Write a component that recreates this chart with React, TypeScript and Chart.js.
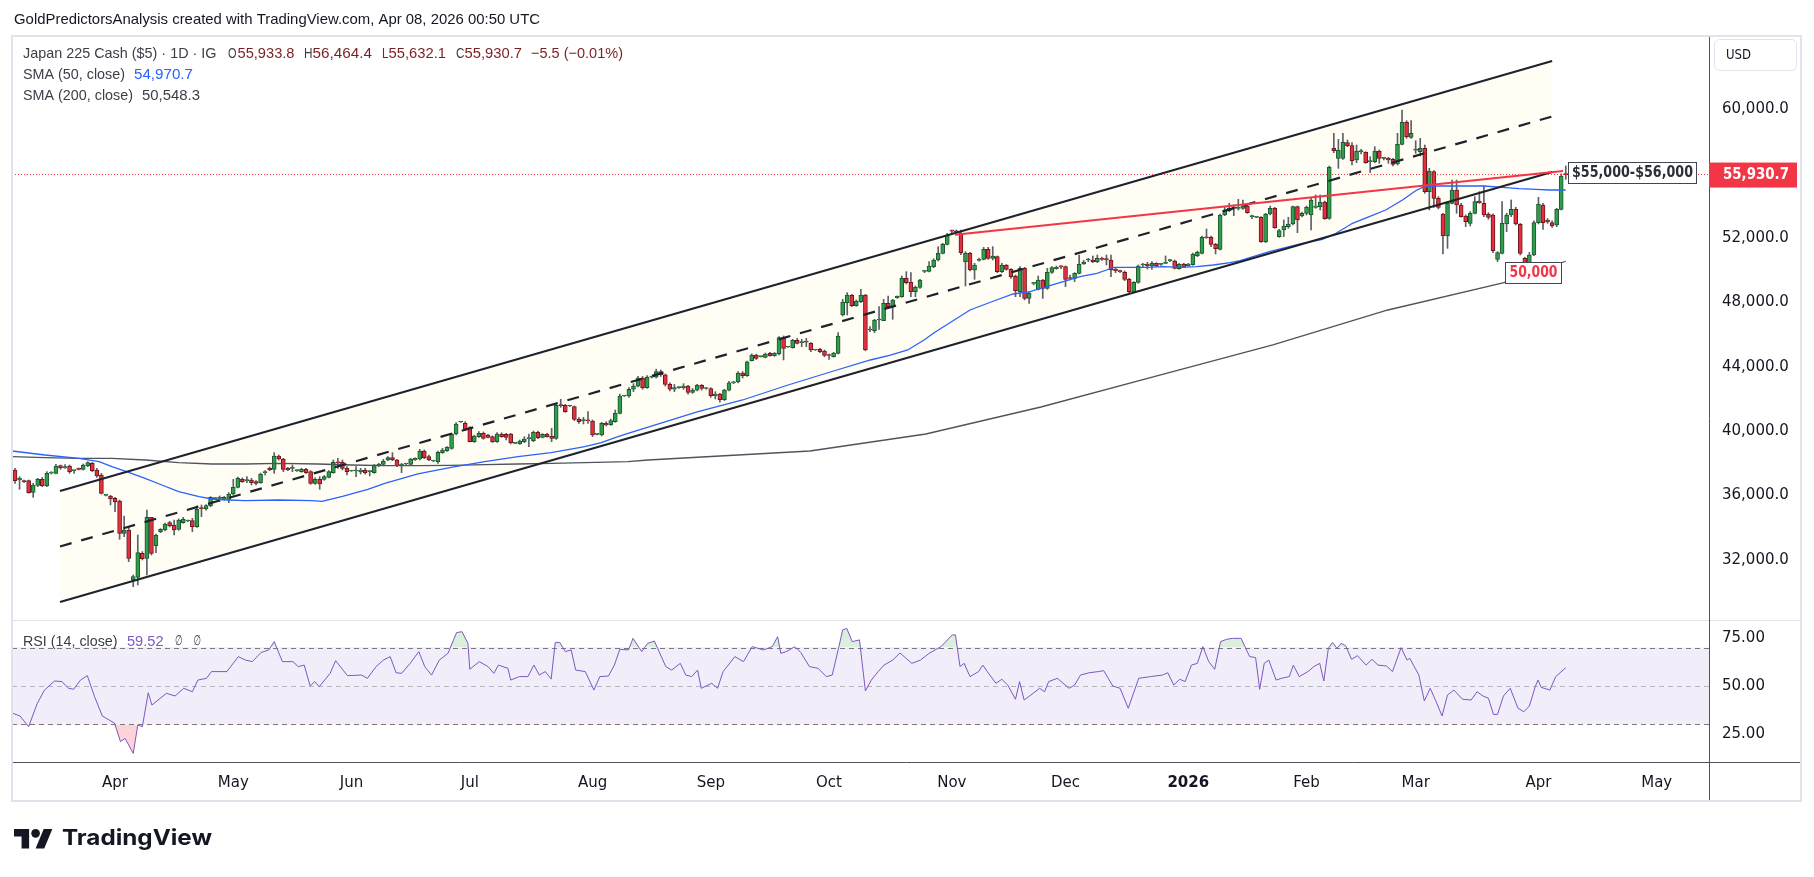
import { useEffect, useRef } from 'react';
import { Chart, registerables } from 'chart.js';

Chart.register(...registerables);

// ---------------- DATA ----------------
// Daily bars (Sun–Fri sessions), bar 0 = 6 Mar 2025, last bar = 8 Apr 2026
const opens = [
37590,36969,36900,36928,36204,36638,37011,36597,37400,37383,37859,37714,37838,37549,37693,37631,37838,38004,37590,37279,
36017,35976,35831,35666,33659,33866,30762,30928,32417,32107,34652,32872,33762,33866,34321,34176,33907,34321,34424,34445,
34073,35211,35169,35355,35811,35831,35769,35769,36100,36514,37011,36928,36969,36866,36804,37424,37714,37631,38459,38273,
37693,37693,37549,37486,37631,37486,36762,37011,37011,37135,37425,38046,38066,37694,37529,37529,37487,37591,37487,37425,
37839,37942,38211,38356,38211,37880,37963,37942,38211,38273,38770,38418,38149,38108,38667,38791,38935,39825,40570,40487,
40218,39349,39660,39866,39763,39660,39349,39825,39804,39825,39246,39205,39349,39535,39411,39929,39618,39825,39701,39556,
41604,41604,41563,41522,40756,40653,40653,40632,39804,39763,40487,40405,40591,41108,42184,42184,42600,42800,43300,42700,
43350,43350,43700,43500,42900,42600,42700,42700,42800,42400,42550,42850,42650,42650,42200,42300,41950,42550,43000,43050,
43600,43450,44380,44730,44627,44585,44834,44689,44792,45806,45227,45186,45641,45496,45537,45454,45040,45082,44978,44710,
44627,44834,47213,47979,48434,47792,48041,48454,46282,46241,46903,46861,47937,47730,48289,48351,49489,49261,48662,48930,
49924,49924,50213,50627,51041,51600,52427,52386,52283,50524,51041,50007,50600,50669,51290,50731,50834,49903,50296,50048,
49634,48662,50110,48248,49179,48807,49386,48869,49862,50090,50214,50214,49490,49490,49800,50379,50627,50627,50524,50731,
50710,50627,50069,49965,49862,49427,48662,49241,50317,50379,50255,50420,50358,50420,50586,50565,50090,50379,50276,50338,
50896,51041,52034,52034,51620,51290,53421,53690,53834,53834,53835,53980,53318,53276,53276,51766,53483,53835,52076,52490,
52697,52862,53938,53359,53525,53421,53897,53938,54228,53214,57559,56938,56938,57911,57724,56835,57352,57311,56731,56731,
57393,56938,56938,56876,56587,57807,59173,58242,57456,57352,57559,54869,56111,54455,53483,52117,54145,54973,54042,53359,
52904,53525,54290,54145,53462,53421,50669,51042,52863,53421,53773,52842,50731,50421,50938,52945,54042,53111,52945,52800,
53773,55933.8];
const highs = [
37693,37176,36969,36969,36762,37073,37134,37486,37486,37942,37900,37921,37900,37590,37714,37962,38107,38066,37693,37383,
36038,36017,35893,35728,34735,34072,31073,33555,32521,35107,34652,33617,33950,34300,34400,34486,34550,34652,34480,34590,
35355,35417,35450,35935,35870,35976,35950,36183,37011,37150,37100,37176,37073,36928,37400,37549,37780,38666,38520,38314,
37750,37900,37600,37700,37700,37550,37100,37176,37250,37550,38211,38315,38211,37797,37560,37797,37694,37694,37549,37942,
38000,38253,38418,38667,38253,38004,38000,38315,38350,38873,38832,38522,38190,38770,38935,39050,39866,40528,40600,40591,
40280,39750,39970,39950,39800,39700,39908,39900,39866,39866,39280,39450,39660,39825,40011,40011,39850,39870,40177,41729,
41977,41666,41600,41563,40839,40860,41211,40694,39840,40549,40591,40756,41315,42308,42220,42700,42950,43400,43400,43450,
43400,43850,43800,43550,43000,42900,42750,42950,42850,42650,42900,42900,42700,42700,42450,42350,42600,43100,43100,43700,
43700,44350,44800,44780,44650,44850,44900,44880,45868,45910,45260,45700,45765,45703,45765,45496,45070,45144,45040,44792,
44900,46116,48185,48599,48496,48150,48806,48496,46489,46944,47730,48185,48392,48185,48400,49634,49903,49841,49013,49427,
49965,50523,50700,51455,51662,52283,52489,52489,52489,51145,51100,50420,50750,51414,51414,51455,50876,50420,50350,50090,
49696,50214,50172,48662,49221,49634,49427,50110,50214,50250,50276,50255,49696,49841,50938,50600,50731,50876,50938,50800,
50938,50938,50110,50000,49945,49490,49283,50317,50420,50480,50524,50460,50420,50876,50669,50627,50420,50420,50420,51050,
51186,52117,52551,52117,51662,53483,53938,54145,54041,54393,54352,54021,53421,53300,53318,53525,53980,53897,52531,53111,
53276,53980,53980,53600,53980,54518,54662,54662,54290,56462,58490,58118,58490,58076,57911,57766,57497,57352,57042,57662,
57456,57000,57000,56938,58490,59938,59276,59276,58035,58180,57766,56318,56173,54559,53525,54249,55593,55593,54145,53421,
53628,54559,54869,55221,53566,53500,51145,54248,53525,54352,53900,52900,50800,51100,53050,54518,54145,53200,53050,53835,
55966,56464.4];
const lows = [
36762,36390,36804,36142,35893,36555,36555,36555,37341,37341,37631,37693,37383,37383,37590,37590,37797,37486,37134,36100,
35976,35417,35003,33286,33452,31900,30348,30452,32004,31073,32314,32459,33700,33800,34050,33555,33850,34280,34380,33762,
34031,34693,35100,35314,35780,35624,35700,35562,36038,36480,36820,36804,36659,36659,36760,37280,37550,37383,38200,37486,
37550,37486,37500,37450,37380,36700,36700,36390,36950,37100,37384,37694,37591,37280,37500,37177,37342,37342,37218,37384,
37800,37880,38170,38170,37797,37425,37920,37880,38180,38211,38294,38170,38110,38004,38625,38750,38873,39763,40540,40032,
39328,39300,39618,39500,39580,39300,39308,39620,39453,39205,39220,39180,39287,39039,39349,39535,39580,39620,39349,39494,
41480,41170,41520,40653,40487,40446,40487,39660,39770,39701,40322,40363,40549,41067,42150,42100,42450,42750,42600,42650,
43300,43300,43400,42800,42500,42450,42650,42600,42300,42350,42500,42550,42600,42100,42000,41800,41900,42500,42950,43000,
43300,43400,44350,44450,44600,44550,44650,44650,44730,44420,45200,45150,45413,45247,45247,44937,45010,44875,44627,44461,
44600,44792,47151,47213,47730,47750,47979,44990,46178,46116,46323,46861,47627,46944,48250,48310,49137,48351,48351,48868,
49841,49882,50150,50566,51000,51559,52283,52283,50950,49014,49950,49427,50550,50627,50669,50627,49841,49841,50000,49490,
48351,48351,48145,47938,49076,48765,48248,48807,49800,50050,50090,48972,49386,49283,49759,50350,50524,50462,50462,50600,
50317,49593,49841,49850,49345,48600,48600,49179,50214,50069,50048,50200,50296,50400,50524,50069,50048,50150,50250,50300,
50834,51000,51972,51455,51000,51250,53379,53627,53379,53731,53773,53525,53193,53250,51720,51704,53421,52593,52035,52076,
52593,52800,52324,53300,53421,52490,53835,53731,53152,53152,57290,56318,56876,57662,56524,56669,57207,56628,56049,56669,
56628,56835,56628,56462,56524,57766,58180,58180,57249,57083,54766,53731,53897,53793,51000,51352,54104,53525,53280,52697,
52738,53483,54145,53318,53152,51083,50525,51000,52386,53318,52800,50938,50300,50250,50900,52862,52531,52900,52650,52697,
53731,55632.1];
const closes = [
36928,37073,36866,36183,36659,37011,36597,37383,37424,37838,37714,37800,37486,37549,37631,37900,38045,37548,37217,36142,
36017,35790,35624,33659,33866,32107,30969,32459,32086,34652,32417,33555,33907,34238,34114,33866,34486,34528,34424,34073,
35149,35190,35376,35893,35811,35840,35893,36100,36514,37073,36866,36940,36804,36762,37342,37430,37590,38459,38273,37631,
37590,37700,37549,37631,37424,36762,37011,36721,37177,37487,38066,38030,37694,37487,37529,37540,37591,37425,37490,37859,
37963,38149,38356,38211,37859,37880,37963,38273,38315,38770,38356,38211,38149,38687,38832,38997,39825,40446,40570,40115,
39349,39701,39866,39556,39618,39328,39825,39660,39618,39287,39246,39391,39515,39540,39929,39598,39804,39660,39556,41604,
41590,41211,41563,40735,40591,40660,40640,39763,39804,40487,40384,40653,41108,42184,42184,42600,42800,43300,42700,43350,
43350,43700,43500,42900,42600,42700,42700,42800,42400,42550,42850,42650,42650,42200,42300,41950,42550,43000,43050,43600,
43450,44300,44730,44523,44627,44792,44689,44834,45806,45144,45227,45641,45454,45500,45530,45040,45040,44937,44710,44700,
44854,45910,48020,48454,47792,48082,48454,45040,46282,46903,46903,47937,47730,48144,48372,49489,49220,48662,48930,49385,
49924,50254,50627,51041,51600,52179,52420,52380,51082,51041,50007,50317,50669,51290,50731,50876,49903,50317,50048,49593,
48724,50110,48248,48558,49179,49386,48869,49862,50152,50172,50200,49427,49480,49800,50358,50503,50627,50503,50731,50669,
50627,50007,49965,49882,49427,48662,49241,50255,50320,50276,50420,50255,50358,50462,50586,50110,50358,50172,50379,51000,
51103,52034,52000,51600,51331,53421,53731,53834,53830,53840,53980,53566,53318,53276,51766,53483,53835,52635,52449,52738,
52862,53938,53111,53525,53897,54352,53980,54228,53193,56380,57414,57456,57931,57724,56793,57393,57352,56669,56731,57393,
56938,56938,56835,56566,57807,59173,58283,58490,57450,57559,54869,56152,54455,53897,52117,54145,54973,54042,53318,53007,
53525,54249,54187,53421,53276,51207,51083,52904,53421,53773,52863,51041,50421,50938,52945,54104,52945,53007,52738,53773,
55842,55930.7];

// Moving averages: [bar index, value]
const sma50Points = [
[-0.66,38769],[6.6,38520],[14.1,38316],[18.5,38105],[21.3,37794],[25,37446],[28.6,37074],[32.3,36658],[36,36242],
[40.5,35932],[43.3,35789],[47,35727],[50.6,35684],[58,35727],[65.3,35684],[67.5,35646],[72,35950],[77.6,36391],
[81.3,36764],[88.6,37342],[95.9,37757],[103.3,38105],[110.6,38415],[117.9,38663],[125.3,39036],[128.9,39284],
[132.6,39657],[134.8,39868],[150,41190],[160,41935],[170,42866],[180,43735],[188.1,44418],[192.5,44728],[196.3,45039],
[199.9,45660],[202.1,46113],[210,47522],[215.8,48143],[219.5,48515],[223.2,48658],[226.8,48968],[230.5,49279],
[234.2,49589],[237.9,49800],[240,50005],[241.5,50173],[245.2,50173],[248.8,50173],[252.5,50210],[256.1,50173],
[259.8,50210],[263.5,50316],[267.2,50458],[269.4,50583],[275.8,51141],[283.1,51662],[287.5,51911],[290.5,52284],
[294.1,52904],[297.8,53314],[301.4,53730],[305.1,54351],[308,54928],[309.5,55139],[312.4,55220],[316.1,55220],
[319.8,55220],[323,55220],[327.1,55139],[330.8,55052],[334.4,55015],[337.4,54972],[341,54970.7]];
const sma200Points = [
[-0.66,38415],[6.6,38353],[14,38316],[21.3,38316],[28.7,38210],[36,38043],[43.3,37962],[50.6,37962],[58,38005],
[66.6,37962],[74,37900],[81.3,37857],[88.6,37857],[95.9,37881],[103.3,37919],[110.6,37962],[117.9,38005],
[125.3,38043],[134.8,38105],[139.2,38210],[174.8,38769],[200.3,39824],[225.6,41500],[251.1,43425],[276.6,45350],
[301.9,47522],[327.2,49200],[341,50548.3]];

// RSI (14, close): [bar index, value]
const rsiPoints = [
[-0.5,35.8],[1.1,34.4],[3.0,28.8],[4.9,41.0],[6.5,47.9],[8.7,52.6],[10.3,52.3],[11.8,48.8],[12.9,48.3],[14.4,53.1],
[15.9,55.4],[17.5,44.4],[19.2,34.4],[21.9,30.6],[23.2,21.0],[24.2,22.7],[26.0,14.9],[27.0,29.7],[28.0,28.8],[29.3,46.5],
[30.1,40.1],[33.3,46.2],[35.2,44.8],[37.1,48.8],[39.0,47.0],[40.2,53.1],[42.1,54.0],[43.2,57.5],[46.6,57.5],[49.1,65.3],
[50.7,63.5],[52.2,62.7],[54.1,67.4],[55.8,68.8],[57.0,73.1],[58.8,62.7],[61.1,62.7],[62.3,60.1],[63.6,60.9],[64.9,50.0],
[65.9,52.3],[66.9,49.7],[69.3,56.6],[70.5,63.2],[73.1,55.4],[76.2,55.7],[77.5,54.0],[79.4,60.1],[81.0,63.5],[82.5,65.3],
[83.8,56.9],[85.0,56.6],[86.9,61.8],[88.8,67.9],[90.1,60.1],[91.6,55.7],[93.3,63.5],[95.2,67.0],[97.1,77.8],[98.3,78.3],
[99.6,72.2],[100.0,58.7],[102.1,62.7],[104.0,60.1],[105.3,56.6],[106.3,60.9],[108.4,59.2],[109.0,53.1],[110.9,54.9],
[112.8,54.9],[114.1,60.9],[115.3,55.7],[116.6,57.5],[117.9,53.6],[118.8,72.7],[119.8,72.7],[121.0,67.9],[122.3,68.8],
[123.3,58.3],[125.4,57.5],[127.3,47.9],[128.6,54.9],[130.5,55.2],[131.8,60.9],[133.0,69.1],[134.9,68.8],[135.9,74.8],
[137.8,67.9],[139.1,72.2],[140.6,73.4],[143.1,60.1],[144.4,58.3],[146.3,61.8],[147.5,55.7],[148.8,54.9],[150.1,58.3],
[150.9,48.8],[153.2,51.4],[154.5,48.8],[155.7,57.5],[158.3,65.3],[160.2,62.7],[162.1,70.5],[164.6,68.8],[166.5,70.5],
[167.7,75.7],[168.4,67.0],[169.6,67.9],[171.5,70.5],[172.8,67.4],[174.7,60.1],[176.6,59.2],[178.4,54.9],[179.7,55.7],
[181.0,68.8],[182.0,79.2],[182.9,80.0],[184.1,73.1],[185.7,74.0],[187.0,47.4],[188.3,53.1],[189.8,57.5],[191.1,60.9],
[193.0,63.5],[194.6,67.2],[197.2,61.8],[199.1,63.5],[201.0,67.0],[203.6,70.5],[206.1,76.6],[206.8,76.6],[207.8,60.1],
[208.7,61.8],[210.0,54.9],[211.9,57.5],[212.8,60.9],[213.8,57.5],[215.7,51.4],[217.0,53.5],[218.3,50.5],[220.0,43.1],
[220.9,52.3],[221.9,42.7],[223.4,45.3],[225.3,48.8],[226.4,47.0],[227.3,52.3],[229.2,54.0],[231.8,48.8],[233.0,50.5],
[234.3,55.7],[236.2,56.9],[238.2,57.5],[239.4,58.0],[241.4,50.0],[243.0,48.8],[244.8,38.4],[247.1,54.0],[249.7,54.9],
[252.3,55.7],[253.5,56.9],[254.8,50.5],[256.1,53.5],[257.3,52.3],[258.7,60.9],[260.0,61.8],[261.2,70.5],[262.5,62.7],
[263.8,58.7],[265.1,73.1],[266.4,74.3],[267.7,74.8],[269.6,74.8],[271.5,65.3],[272.8,64.8],[273.7,48.3],[274.7,61.8],
[275.7,63.5],[277.3,53.1],[278.5,54.0],[280.2,54.9],[281.1,60.9],[282.4,54.9],[284.3,57.5],[285.6,60.1],[286.9,61.8],
[287.8,52.6],[288.8,69.6],[289.7,72.7],[290.7,69.6],[291.6,72.2],[292.6,71.0],[293.9,63.9],[295.2,65.8],[297.1,60.9],
[298.4,63.9],[299.7,60.9],[301.6,60.4],[302.9,57.5],[304.8,70.0],[306.1,63.5],[306.7,64.4],[308.7,55.7],[309.9,42.2],
[311.2,48.8],[312.5,41.8],[313.8,34.4],[315.0,45.3],[316.4,47.9],[318.3,43.1],[320.2,42.7],[321.5,47.0],[322.8,44.8],
[324.0,43.6],[325.1,35.2],[326.0,35.2],[327.3,44.8],[328.8,48.8],[330.5,38.4],[331.8,36.6],[333.0,39.6],[334.3,49.7],
[334.9,53.1],[335.6,49.3],[337.5,47.9],[338.8,54.9],[341,59.52]];

// Drawings: parallel channel, red trend line, labels
const channelIndex = [9.9, 338.0];
const channelUpper = [36285, 62980];
const channelLower = [29395, 56089];
const redTrendIndex = [206.7, 340.4];
const redTrendPrice = [52200, 56151];
const rangeLabel = { text: '$55,000-$56,000', index: 341.5, price: 56058 };
const levelLabel = { text: '50,000', index: 327.6, price: 49850 };

const lastPrice = 55930.7;
const sma50Last = 54970.7;
const sma200Last = 50548.3;
const rsiLast = 59.52;
const priceTicks = [32000, 36000, 40000, 44000, 48000, 52000, 56000, 60000];
const rsiTicks = [25, 50, 75];
const rsiLevels = [70, 50, 30];
const priceRange = [28277, 64470];
const rsiRange = [10.42, 84.375];
const indexRange = [-0.66, 372.5];

const MONTHS = ['Jan','Feb','Mar','Apr','May','Jun','Jul','Aug','Sep','Oct','Nov','Dec'];

function buildMonthTicks(count: number) {
  const ticks: { value: number; label: string }[] = [];
  const d = new Date(Date.UTC(2025, 2, 6));
  let idx = 0;
  let prev = -1;
  while (idx < count) {
    if (d.getUTCDay() !== 6) {
      const m = d.getUTCMonth();
      if (prev !== -1 && m !== prev) ticks.push({ value: idx, label: m === 0 ? String(d.getUTCFullYear()) : MONTHS[m] });
      prev = m;
      idx++;
    }
    d.setUTCDate(d.getUTCDate() + 1);
  }
  return ticks;
}

const fmt1 = (v: number) => v.toLocaleString('en-US', { minimumFractionDigits: 1, maximumFractionDigits: 1 });

function fitText(ctx: CanvasRenderingContext2D, text: string, x: number, y: number, width: number | null, size: number, family: string, weight: string, color: string) {
  ctx.save();
  ctx.font = `${weight} ${size}px "${family}"`;
  ctx.textBaseline = 'middle';
  ctx.textAlign = 'left';
  ctx.fillStyle = color;
  const w = ctx.measureText(text).width;
  const sx = width ? width / w : 1;
  ctx.translate(x, y);
  ctx.scale(sx, 1);
  ctx.fillText(text, 0, 0);
  ctx.restore();
}

const decorPlugin = {
  id: 'decor',
  beforeDraw(chart: any) {
    const { ctx, chartArea } = chart;
    const yR = chart.scales.yR;
    ctx.save();
    ctx.fillStyle = '#ffffff';
    ctx.fillRect(0, 0, chart.width, chart.height);
    const y70 = yR.getPixelForValue(70), y30 = yR.getPixelForValue(30);
    ctx.fillStyle = 'rgba(126,87,194,0.1)';
    ctx.fillRect(chartArea.left, y70, chartArea.right - chartArea.left, y30 - y70);
    rsiLevels.forEach((lv) => {
      const y = Math.round(yR.getPixelForValue(lv)) + 0.5;
      ctx.beginPath();
      ctx.setLineDash([5, 4]);
      ctx.strokeStyle = lv === 50 ? 'rgba(120,123,134,0.5)' : '#787b86';
      ctx.lineWidth = 1;
      ctx.moveTo(chartArea.left, y);
      ctx.lineTo(chartArea.right, y);
      ctx.stroke();
    });
    ctx.restore();
  },
  afterDraw(chart: any) {
    const { ctx, chartArea } = chart;
    const xs = chart.scales.x, ys = chart.scales.y, yR = chart.scales.yR;
    ctx.save();
    const sep = Math.round(yR.top) + 0.5;
    ctx.strokeStyle = '#e0e3eb';
    ctx.lineWidth = 1;
    ctx.beginPath(); ctx.moveTo(12, sep); ctx.lineTo(1801, sep); ctx.stroke();
    ctx.strokeStyle = '#50535e';
    ctx.beginPath(); ctx.moveTo(12, Math.round(chartArea.bottom) + 0.5); ctx.lineTo(1801, Math.round(chartArea.bottom) + 0.5); ctx.stroke();
    ctx.beginPath(); ctx.moveTo(Math.round(chartArea.right) + 0.5, 37); ctx.lineTo(Math.round(chartArea.right) + 0.5, 800); ctx.stroke();
    ctx.strokeStyle = '#e0e3eb';
    ctx.lineWidth = 2;
    ctx.strokeRect(12, 36, 1789, 765);

    ctx.lineWidth = 1;
    ctx.strokeStyle = '#e0e3eb';
    ctx.beginPath();
    (ctx as any).roundRect(1714.5, 39.5, 82, 31, 5);
    ctx.stroke();
    fitText(ctx, 'USD', 1726, 55, 25, 14, 'DejaVu Sans', 'normal', '#131722');

    const py = ys.getPixelForValue(lastPrice);
    ctx.fillStyle = '#f23645';
    ctx.fillRect(chartArea.right, py - 12, 88, 25);
    fitText(ctx, fmt1(lastPrice), 1723, py + 0.5, 66, 15, 'DejaVu Sans', 'bold', '#ffffff');

    const drawBox = (lab: any, w: number, textW: number, color: string) => {
      const bx = Math.round(xs.getPixelForValue(lab.index));
      const by = ys.getPixelForValue(lab.price);
      ctx.fillStyle = '#ffffff';
      ctx.fillRect(bx, by - 10.5, w, 21);
      ctx.strokeStyle = '#434651';
      ctx.lineWidth = 1;
      ctx.strokeRect(bx + 0.5, Math.round(by - 10.5) + 0.5, w - 1, 21);
      fitText(ctx, lab.text, bx + (w - textW) / 2, by + 0.5, textW, 15, 'DejaVu Sans', 'bold', color);
    };
    drawBox(rangeLabel, 129, 121, '#2a2e39');
    drawBox(levelLabel, 57, 48, '#f23645');

    const F = 'Liberation Sans';
    fitText(ctx, 'GoldPredictorsAnalysis created with TradingView.com, Apr 08, 2026 00:50 UTC', 14, 20, 526, 15, F, 'normal', '#131722');
    const lc = '#3b3e48';
    const vc = '#7a1f22';
    fitText(ctx, 'Japan 225 Cash ($5) · 1D · IG', 23, 53.5, 193.5, 15, F, 'normal', lc);
    fitText(ctx, 'O', 228, 53.5, 8.5, 15, F, 'normal', lc);
    fitText(ctx, fmt1(opens[opens.length - 1]), 237.5, 53.5, 57, 15, F, 'normal', vc);
    fitText(ctx, 'H', 304, 53.5, 8.5, 15, F, 'normal', lc);
    fitText(ctx, fmt1(highs[highs.length - 1]), 312.5, 53.5, 59.5, 15, F, 'normal', vc);
    fitText(ctx, 'L', 382, 53.5, 6.5, 15, F, 'normal', lc);
    fitText(ctx, fmt1(lows[lows.length - 1]), 388.5, 53.5, 57.5, 15, F, 'normal', vc);
    fitText(ctx, 'C', 456, 53.5, 8.5, 15, F, 'normal', lc);
    fitText(ctx, fmt1(closes[closes.length - 1]), 464.5, 53.5, 57.5, 15, F, 'normal', vc);
    fitText(ctx, '−5.5 (−0.01%)', 531, 53.5, 92, 15, F, 'normal', vc);
    fitText(ctx, 'SMA (50, close)', 23, 74.5, 102, 15, F, 'normal', lc);
    fitText(ctx, fmt1(sma50Last), 134, 74.5, 59, 15, F, 'normal', '#2962ff');
    fitText(ctx, 'SMA (200, close)', 23, 95.5, 110, 15, F, 'normal', lc);
    fitText(ctx, fmt1(sma200Last), 142, 95.5, 58, 15, F, 'normal', lc);
    fitText(ctx, 'RSI (14, close)', 23, 641.5, 94.5, 15, F, 'normal', lc);
    fitText(ctx, rsiLast.toFixed(2), 127, 641.5, 36.5, 15, F, 'normal', '#7e57c2');
    fitText(ctx, '∅', 175, 641.5, 7.5, 14, 'DejaVu Sans', 'normal', lc);
    fitText(ctx, '∅', 193.5, 641.5, 7.5, 14, 'DejaVu Sans', 'normal', lc);

    ctx.save();
    ctx.translate(14, 824.7);
    ctx.scale(1.08, 1.08);
    ctx.fillStyle = '#131722';
    ctx.beginPath();
    ctx.moveTo(14, 22); ctx.lineTo(7, 22); ctx.lineTo(7, 11); ctx.lineTo(0, 11); ctx.lineTo(0, 4); ctx.lineTo(14, 4); ctx.closePath();
    ctx.fill();
    ctx.beginPath();
    ctx.moveTo(28, 22); ctx.lineTo(20, 22); ctx.lineTo(27.5, 4); ctx.lineTo(35.5, 4); ctx.closePath();
    ctx.fill();
    ctx.beginPath(); ctx.arc(20, 8, 4, 0, Math.PI * 2); ctx.fill();
    ctx.restore();
    fitText(ctx, 'TradingView', 62, 838.5, 150, 22, 'Inter', 'bold', '#131722');
    ctx.restore();
  },
};

export default function App() {
  const ref = useRef<HTMLCanvasElement>(null);
  useEffect(() => {
    document.body.style.margin = '0';
    const canvas = ref.current;
    if (!canvas) return;
    const monthTicks = buildMonthTicks(373);
    const labelFor = (v: number) => {
      const t = monthTicks.find((m) => m.value === v);
      return t ? t.label : '';
    };
    const n = opens.length;
    const idx = Array.from({ length: n }, (_, i) => i);
    const up = idx.map((i) => closes[i] >= opens[i]);
    const bodies = idx.map((i) => ({ x: i, y: [opens[i], closes[i]] }));
    const wicks = idx.map((i) => ({ x: i, y: [lows[i], highs[i]] }));
    const pts = (arr: number[][]) => arr.map(([x, y]) => ({ x, y }));
    const seg = (xsArr: number[], ysArr: number[]) => [{ x: xsArr[0], y: ysArr[0] }, { x: xsArr[1], y: ysArr[1] }];
    const mid = [(channelUpper[0] + channelLower[0]) / 2, (channelUpper[1] + channelLower[1]) / 2];

    const line = (extra: any) => ({ type: 'line', pointRadius: 0, tension: 0, fill: false, yAxisID: 'y', ...extra });

    const chart = new Chart(canvas, {
      type: 'bar',
      data: {
        datasets: [
          line({ data: seg(channelIndex, channelLower), borderWidth: 0, borderColor: 'rgba(0,0,0,0)', order: 100 }),
          line({ data: seg(channelIndex, channelUpper), borderWidth: 0, borderColor: 'rgba(0,0,0,0)', fill: '-1', backgroundColor: 'rgba(255,236,170,0.13)', order: 99 }),
          { type: 'bar', data: wicks, yAxisID: 'y', barThickness: 1, grouped: false, backgroundColor: '#5d606b', borderWidth: 0, order: 60 },
          { type: 'bar', data: bodies, yAxisID: 'y', barThickness: 4, grouped: false, minBarLength: 1,
            backgroundColor: up.map((u) => (u ? '#2f9e4a' : '#e3303f')),
            borderColor: up.map((u) => (u ? '#1d5530' : '#6b171c')),
            borderWidth: 1, borderSkipped: false, order: 50 },
          line({ data: pts(sma200Points), borderColor: '#50535e', borderWidth: 1.3, order: 40 }),
          line({ data: pts(sma50Points), borderColor: '#2962ff', borderWidth: 1.3, order: 39 }),
          line({ data: [{ x: indexRange[0], y: lastPrice }, { x: indexRange[1], y: lastPrice }], borderColor: '#f23645', borderWidth: 1, borderDash: [1, 2], order: 30 }),
          line({ data: seg(channelIndex, mid), borderColor: '#1e222d', borderWidth: 2.2, borderDash: [12, 10], order: 20 }),
          line({ data: seg(channelIndex, channelUpper), borderColor: '#1e222d', borderWidth: 2.2, order: 19 }),
          line({ data: seg(channelIndex, channelLower), borderColor: '#1e222d', borderWidth: 2.2, order: 18 }),
          line({ data: seg(redTrendIndex, redTrendPrice), borderColor: '#f23645', borderWidth: 2, order: 17 }),
          line({ data: pts(rsiPoints), yAxisID: 'yR', borderColor: 'rgba(0,0,0,0)', borderWidth: 0,
                 fill: { target: { value: 30 }, above: 'rgba(0,0,0,0)', below: 'rgba(242,54,69,0.22)' }, order: 11 }),
          line({ data: pts(rsiPoints), yAxisID: 'yR', borderColor: '#7e57c2', borderWidth: 1,
                 fill: { target: { value: 70 }, above: 'rgba(76,175,80,0.2)', below: 'rgba(0,0,0,0)' }, order: 10 }),
        ],
      },
      options: {
        responsive: false,
        animation: false,
        devicePixelRatio: 1,
        events: [],
        layout: { padding: { left: 12, top: 37, right: 13, bottom: 77 }, autoPadding: false },
        plugins: { legend: { display: false }, tooltip: { enabled: false }, filler: { drawTime: 'beforeDatasetsDraw' } },
        scales: {
          x: {
            type: 'linear', position: 'bottom', min: indexRange[0], max: indexRange[1], offset: false, bounds: 'ticks',
            grid: { display: false, drawTicks: false, offset: false }, border: { display: false },
            afterBuildTicks: (s: any) => { s.ticks = monthTicks.map((m) => ({ value: m.value })); },
            afterFit: (s: any) => { s.height = 38; },
            ticks: {
              autoSkip: false, maxRotation: 0, minRotation: 0, padding: 12, color: '#131722',
              font: (c: any) => ({ family: 'DejaVu Sans', size: 15, weight: c.tick && labelFor(c.tick.value) === '2026' ? 'bold' : 'normal' }),
              callback: (v: any) => labelFor(v),
            },
          },
          y: {
            type: 'linear', position: 'right', stack: 'panes', stackWeight: 583, min: priceRange[0], max: priceRange[1],
            grid: { display: false, drawTicks: false }, border: { display: false },
            afterBuildTicks: (s: any) => { s.ticks = priceTicks.map((v) => ({ value: v })); },
            afterFit: (s: any) => { s.width = 92; },
            ticks: { padding: 13, crossAlign: 'near', color: '#131722', font: { family: 'DejaVu Sans', size: 15 }, callback: (v: any) => fmt1(v) },
          },
          yR: {
            type: 'linear', position: 'right', stack: 'panes', stackWeight: 142, min: rsiRange[0], max: rsiRange[1],
            grid: { display: false, drawTicks: false }, border: { display: false },
            afterBuildTicks: (s: any) => { s.ticks = rsiTicks.map((v) => ({ value: v })); },
            afterFit: (s: any) => { s.width = 92; },
            ticks: { padding: 13, crossAlign: 'near', color: '#131722', font: { family: 'DejaVu Sans', size: 15 }, callback: (v: any) => Number(v).toFixed(2) },
          },
        },
      } as any,
      plugins: [decorPlugin],
    } as any);
    return () => chart.destroy();
  }, []);
  return (
    <div style={{ position: 'absolute', left: 0, top: 0, width: 1814, height: 877, background: '#fff' }}>
      <canvas ref={ref} width={1814} height={877} style={{ width: 1814, height: 877, display: 'block' }} />
    </div>
  );
}
